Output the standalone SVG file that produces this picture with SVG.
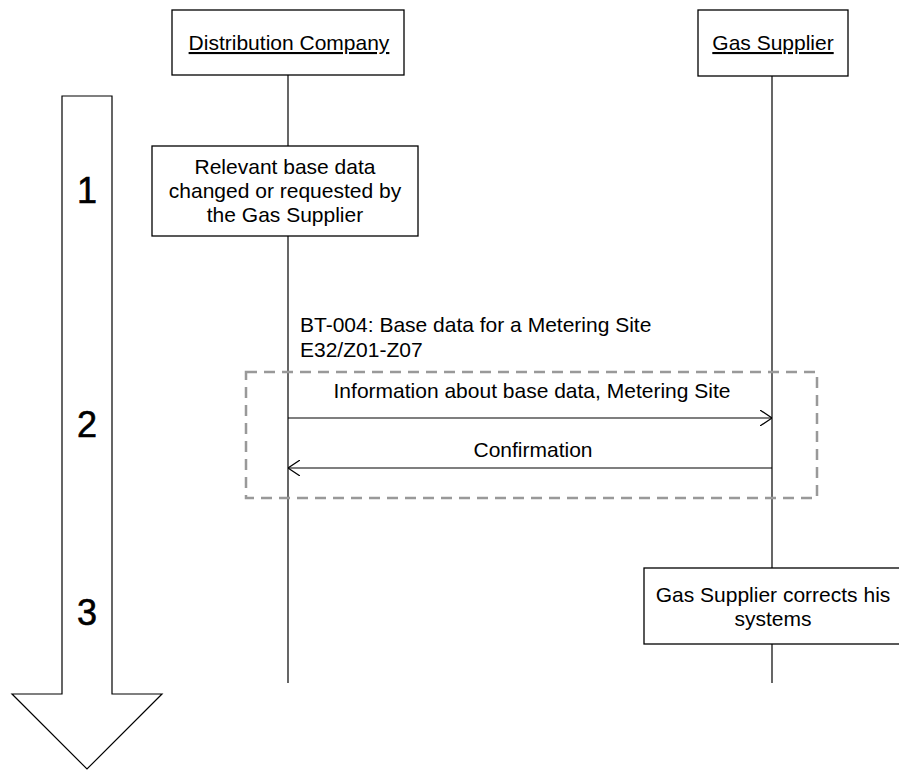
<svg xmlns="http://www.w3.org/2000/svg" width="899" height="770" viewBox="0 0 899 770">
  <style>
    .box { fill: #fff; stroke: #000; stroke-width: 1.3; }
    .life { stroke: #000; stroke-width: 1.2; fill: none; }
    .msg { stroke: #000; stroke-width: 1.2; fill: none; }
    .txt { font-family: "Liberation Sans", Arial, sans-serif; font-size: 21px; fill: #000; }
    .num { font-family: "Liberation Sans", Arial, sans-serif; font-size: 36px; fill: #000; stroke: #000; stroke-width: 0.6; text-anchor: middle; }
    .mid { text-anchor: middle; }
  </style>
  <defs>
    <marker id="open" viewBox="0 0 12 16" refX="12" refY="8" markerWidth="12" markerHeight="16" markerUnits="userSpaceOnUse" orient="auto">
      <path d="M0,0 L12,8 L0,16" fill="none" stroke="#000" stroke-width="1.2"/>
    </marker>
  </defs>

  <!-- timeline arrow -->
  <g id="timeline">
    <path d="M62,96 L112,96 L112,694 L162,694 L87,769 L12,694 L62,694 Z" fill="#fff" stroke="#000" stroke-width="1.2"/>
    <text class="num" x="87" y="203">1</text>
    <text class="num" x="87" y="437">2</text>
    <text class="num" x="87" y="625">3</text>
  </g>

  <!-- lifelines -->
  <g id="lifelines">
    <line class="life" x1="288" y1="75" x2="288" y2="683"/>
    <line class="life" x1="772" y1="76" x2="772" y2="683"/>
  </g>

  <g id="distribution-company">
    <rect class="box" x="172" y="10" width="232" height="65"/>
    <text class="txt mid" x="289" y="50" text-decoration="underline">Distribution Company</text>
  </g>

  <g id="gas-supplier">
    <rect class="box" x="698" y="10" width="150" height="66"/>
    <text class="txt mid" x="773" y="50" text-decoration="underline">Gas Supplier</text>
  </g>

  <g id="step1">
    <rect class="box" x="152" y="146" width="266" height="90"/>
    <text class="txt mid" x="285" y="174">Relevant base data</text>
    <text class="txt mid" x="285" y="198">changed or requested by</text>
    <text class="txt mid" x="285" y="222">the Gas Supplier</text>
  </g>

  <g id="step2">
    <rect x="246" y="372" width="571" height="126" fill="none" stroke="#999" stroke-width="2.5" stroke-dasharray="11,7"/>
    <text class="txt" x="300" y="332" font-size="21.4px">BT-004: Base data for a Metering Site</text>
    <text class="txt" x="300" y="357">E32/Z01-Z07</text>
  </g>

  <g id="step3">
    <rect class="box" x="644" y="568" width="258" height="76"/>
    <text class="txt mid" x="773" y="602">Gas Supplier corrects his</text>
    <text class="txt mid" x="773" y="626">systems</text>
  </g>

  <!-- messages -->
  <g id="connectors">
    <line class="msg" x1="288" y1="418" x2="772" y2="418" marker-end="url(#open)"/>
    <text class="txt mid" x="532" y="398">Information about base data, Metering Site</text>
    <line class="msg" x1="772" y1="468" x2="288" y2="468" marker-end="url(#open)"/>
    <text class="txt mid" x="533" y="457">Confirmation</text>
  </g>
</svg>
